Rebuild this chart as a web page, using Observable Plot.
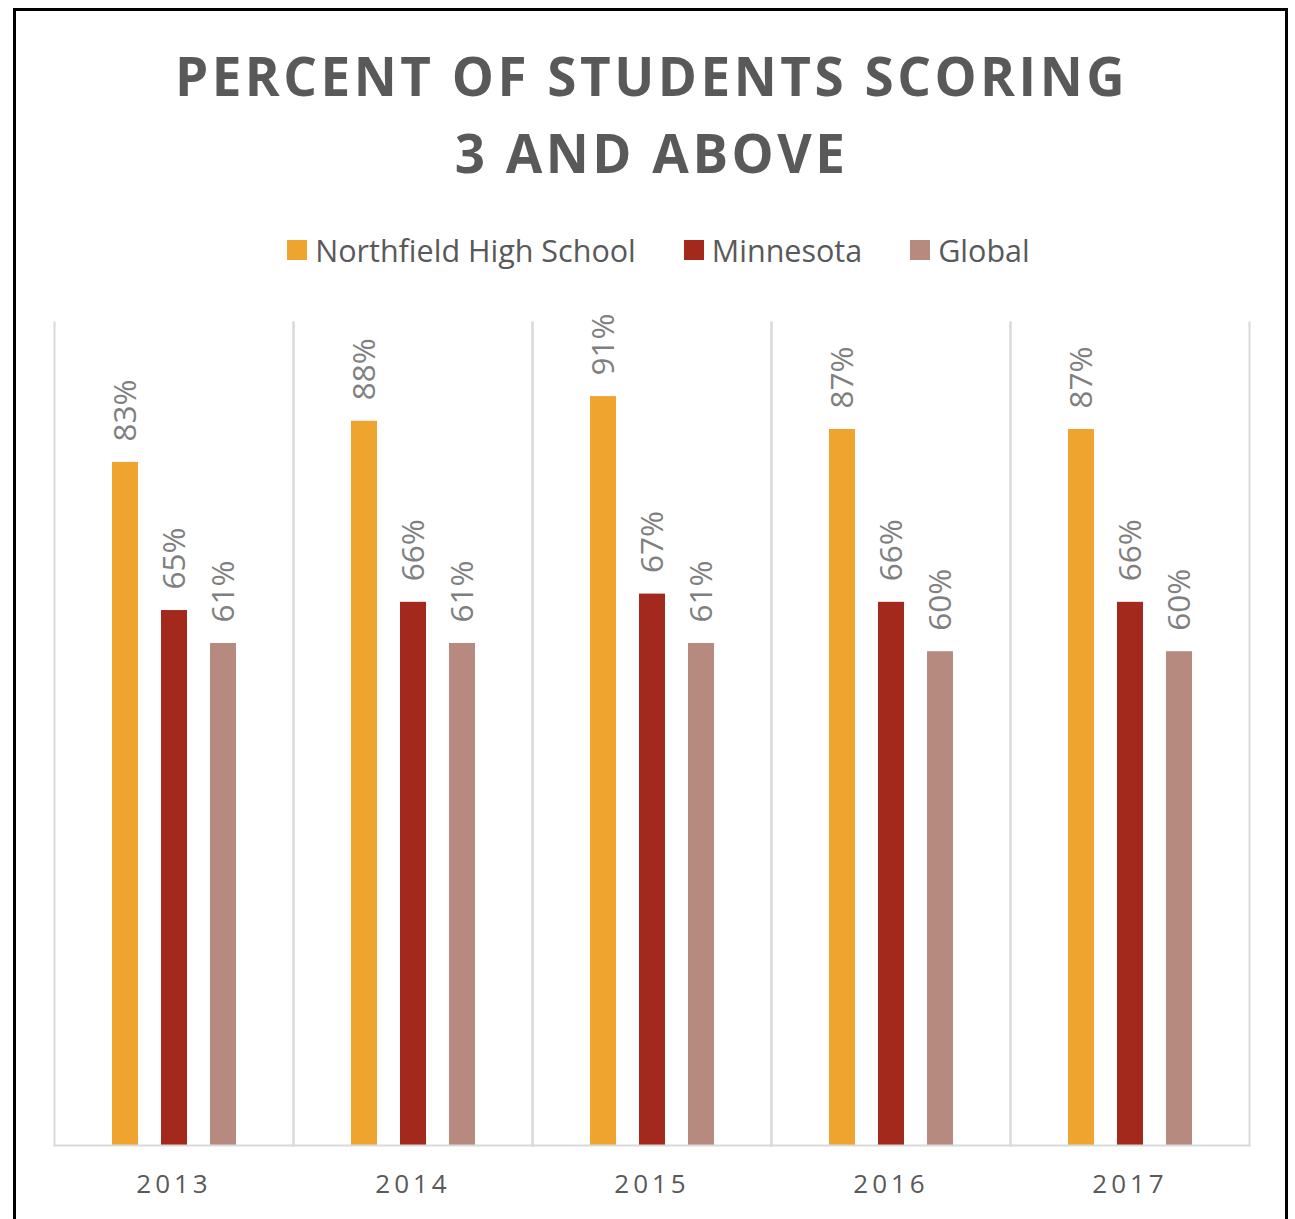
<!DOCTYPE html>
<html>
<head>
<meta charset="utf-8">
<script src="https://cdn.jsdelivr.net/npm/d3@7"></script>
<script src="https://cdn.jsdelivr.net/npm/@observablehq/plot@0.6"></script>
<style>
  html, body { margin: 0; padding: 0; background: #fff; overflow: hidden; width: 1295px; height: 1219px; }
  #frame { position: absolute; left: 13px; top: 8px; width: 1269px; height: 1300px; border: 3px solid #000; box-sizing: content-box; }
  #title { position: absolute; left: 4px; top: 37px; width: 1295px; text-align: center; font-family: "Open Sans", sans-serif; font-weight: 700; font-size: 53px; line-height: 77px; letter-spacing: 3.5px; color: #595959; }
  #legend { position: absolute; left: 11px; top: 229px; width: 1295px; display: flex; justify-content: center; align-items: center; font-family: "Open Sans", sans-serif; font-size: 30.5px; color: #595959; }
  .item { display: flex; align-items: center; margin: 0 24px; }
  .sw { width: 20px; height: 20px; margin-right: 8px; }
  #chart { position: absolute; left: 0; top: 280px; }
</style>
</head>
<body>
<div id="frame"></div>
<div id="title">PERCENT OF STUDENTS SCORING<br>3 AND ABOVE</div>
<div id="legend"></div>
<div id="chart"></div>
<script>
const years = ["2013", "2014", "2015", "2016", "2017"];
const seriesNames = ["Northfield High School", "Minnesota", "Global"];
const seriesColors = ["#F0A430", "#A2291B", "#B78A7F"];
const northfield = [0.83, 0.88, 0.91, 0.87, 0.87];
const minnesota = [0.65, 0.66, 0.67, 0.66, 0.66];
const globalVals = [0.61, 0.61, 0.61, 0.60, 0.60];

const seriesValues = [northfield, minnesota, globalVals];
const data = [];
years.forEach((yr, i) => {
  seriesNames.forEach((s, j) => data.push({year: yr, series: s, value: seriesValues[j][i]}));
});

// legend
const legend = document.getElementById("legend");
seriesNames.forEach((s, j) => {
  const it = document.createElement("div");
  it.className = "item";
  const sw = document.createElement("div");
  sw.className = "sw";
  sw.style.background = seriesColors[j];
  const tx = document.createElement("span");
  tx.textContent = s;
  it.appendChild(sw); it.appendChild(tx);
  legend.appendChild(it);
});

const chart = Plot.plot({
  width: 1295,
  height: 939,
  marginLeft: 52,
  marginRight: 45,
  marginTop: 42,
  marginBottom: 74,
  style: {fontFamily: "Open Sans", background: "transparent"},
  fx: {domain: years, padding: 0, label: null, axis: null},
  x: {domain: seriesNames, paddingInner: 0.47, paddingOuter: 1.15, axis: null},
  y: {domain: [0, 1], axis: null},
  color: {domain: seriesNames, range: seriesColors},
  marks: [
    Plot.frame({anchor: "left", stroke: "#d9d9d9", strokeWidth: 2}),
    Plot.frame({anchor: "right", stroke: "#d9d9d9", strokeWidth: 2}),
    Plot.barY(data, {fx: "year", x: "series", y: "value", fill: "series"}),
    Plot.ruleY([0], {stroke: "#d9d9d9", strokeWidth: 2}),
    Plot.text(data, {
      fx: "year", x: "series", y: "value",
      text: d => Math.round(d.value * 100) + "%",
      rotate: -90, textAnchor: "start", lineAnchor: "middle",
      dy: -21, fill: "#7f7f7f", fontSize: 31.5
    }),
    Plot.axisFx({anchor: "bottom", tickSize: 0, tickPadding: 29, fontSize: 26, fill: "#595959", label: null})
  ]
});
document.getElementById("chart").appendChild(chart);
d3.select(chart).selectAll('[aria-label="fx-axis tick label"] text').style("letter-spacing", "4px");
</script>
</body>
</html>
